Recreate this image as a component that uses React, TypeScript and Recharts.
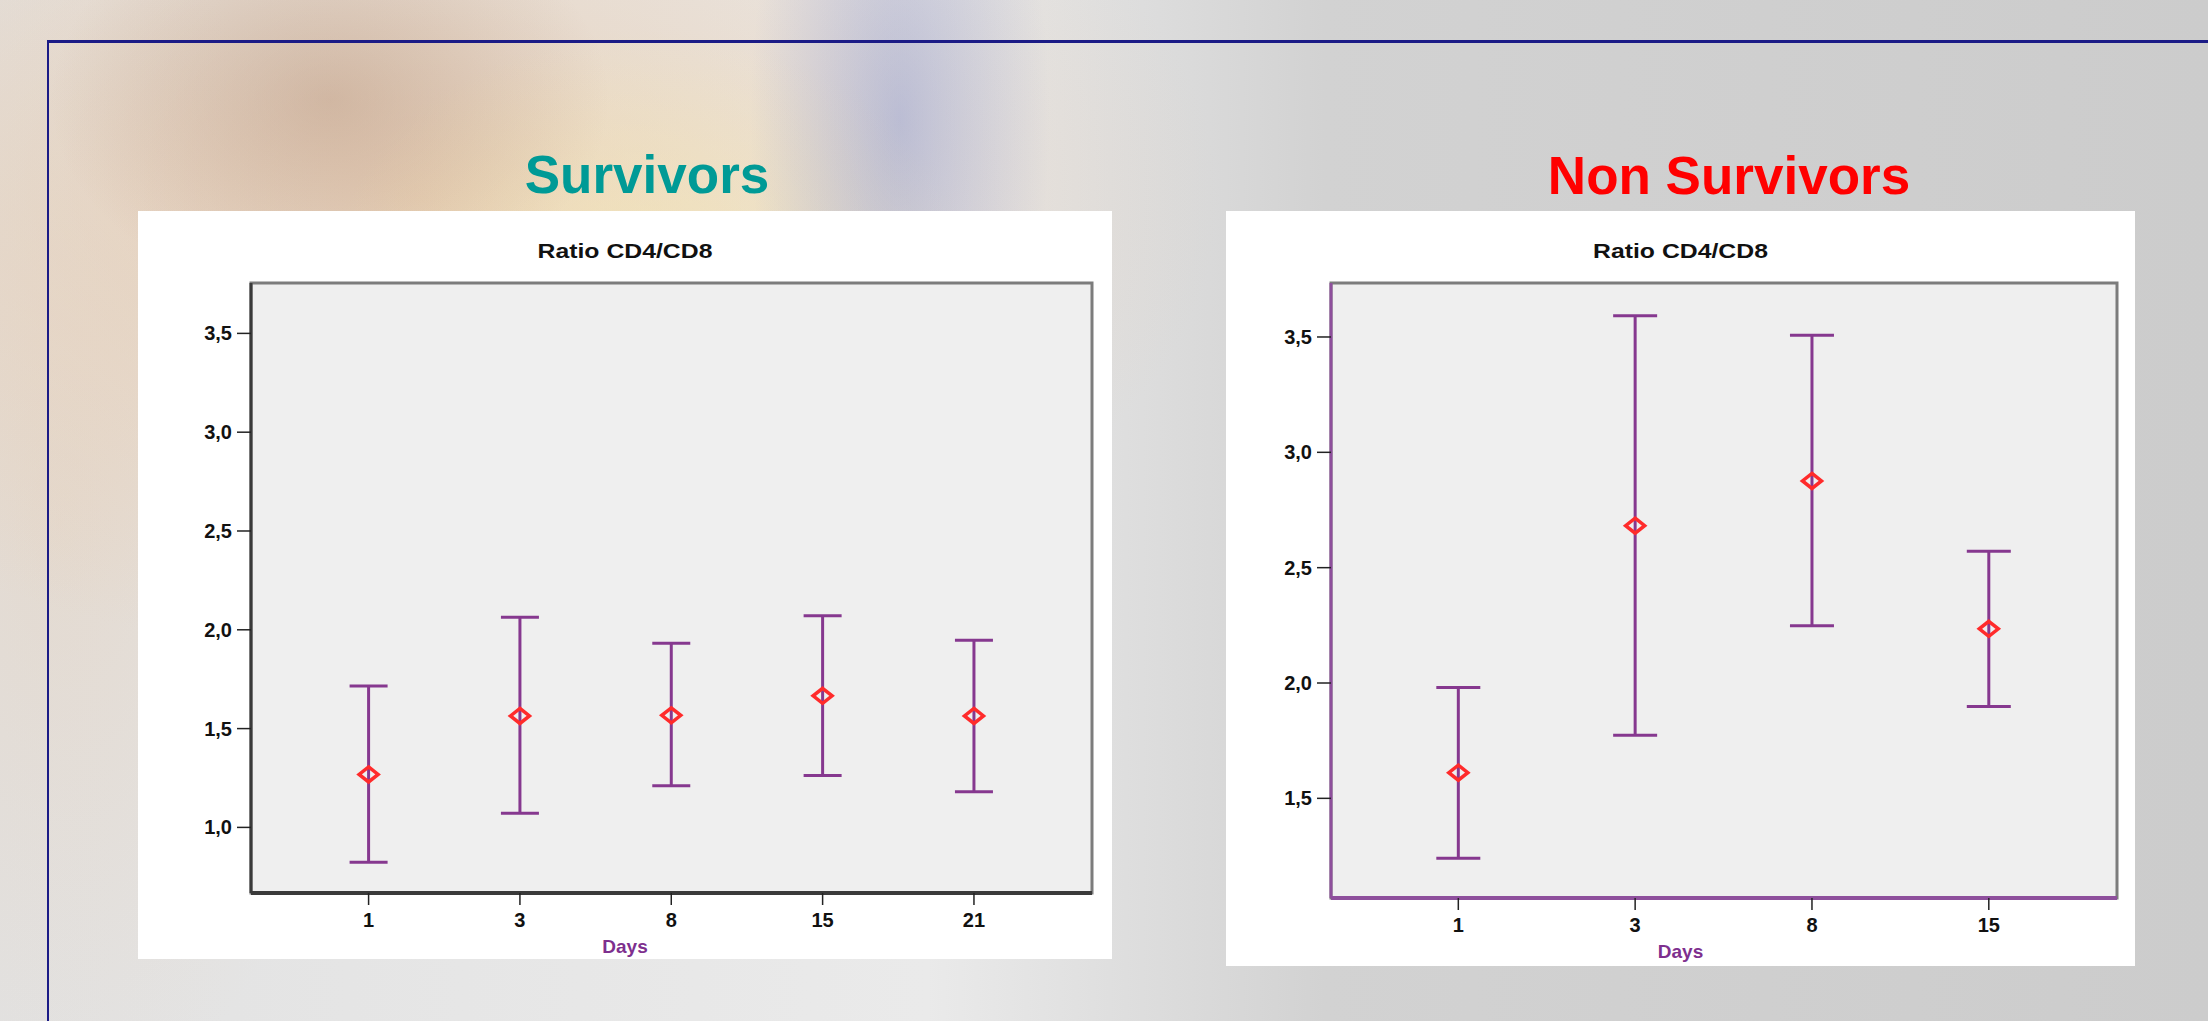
import React from 'react';
import { ComposedChart, Scatter, ErrorBar, XAxis, YAxis, ReferenceArea } from 'recharts';

// Survivors: mean ratio CD4/CD8 with its interval, per day
const survivorDays = ['1', '3', '8', '15', '21'];
const survivorMean = [1.268, 1.564, 1.567, 1.666, 1.564];
const survivorLow = [0.824, 1.072, 1.211, 1.263, 1.181];
const survivorHigh = [1.716, 2.064, 1.932, 2.071, 1.947];
const survivorTicks = [1.0, 1.5, 2.0, 2.5, 3.0, 3.5];

// Non survivors
const nonSurvivorDays = ['1', '3', '8', '15'];
const nonSurvivorMean = [1.611, 2.682, 2.876, 2.235];
const nonSurvivorLow = [1.24, 1.773, 2.248, 1.898];
const nonSurvivorHigh = [1.981, 3.592, 3.508, 2.571];
const nonSurvivorTicks = [1.5, 2.0, 2.5, 3.0, 3.5];

const FONT = '"Liberation Sans", Arial, sans-serif';

const buildRows = (days: string[], mean: number[], low: number[], high: number[]) =>
  days.map((day, i) => ({
    idx: i,
    day,
    mean: mean[i],
    err: [mean[i] - low[i], high[i] - mean[i]],
  }));

const Diamond = (props: any) => {
  const { cx, cy } = props;
  if (cx == null || cy == null) return null;
  return (
    <path
      d={`M${cx},${cy - 7.5} L${cx + 9.5},${cy} L${cx},${cy + 7.5} L${cx - 9.5},${cy} Z`}
      fill="none"
      stroke="#ff2b2b"
      strokeWidth={3.5}
    />
  );
};

type PanelProps = {
  left: number;
  top: number;
  width: number;
  height: number;
  yAxisWidth: number;
  xAxisHeight: number;
  marginRight: number;
  daysTop: number;
  days: string[];
  rows: any[];
  xDomain: [number, number];
  yDomain: [number, number];
  yTicks: number[];
  axisColor: string;
  cap: number;
};

const ChartPanel: React.FC<PanelProps> = (p) => {
  const tickStyle = { fill: '#111', fontSize: 20, fontWeight: 'bold', fontFamily: FONT };
  return (
    <div
      style={{
        position: 'absolute',
        left: p.left,
        top: p.top,
        width: p.width,
        height: p.height,
        background: '#fff',
      }}
    >
      <div
        style={{
          position: 'absolute',
          left: 0,
          top: 29,
          width: p.width,
          textAlign: 'center',
          fontFamily: FONT,
          fontWeight: 'bold',
          fontSize: 21,
          lineHeight: '22px',
          color: '#111',
          transform: 'scaleX(1.18)',
        }}
      >
        Ratio CD4/CD8
      </div>
      <ComposedChart
        width={p.width}
        height={p.height}
        margin={{ top: 72, right: p.marginRight, bottom: 0, left: 0 }}
        style={{ position: 'absolute', left: 0, top: 0 }}
      >
        <ReferenceArea
          x1={p.xDomain[0]}
          x2={p.xDomain[1]}
          y1={p.yDomain[0]}
          y2={p.yDomain[1]}
          fill="#efefef"
          fillOpacity={1}
          stroke="#7c7c7c"
          strokeWidth={3}
        />
        <Scatter data={p.rows} dataKey="mean" shape={<Diamond />} isAnimationActive={false}>
          <ErrorBar
            dataKey="err"
            direction="y"
            width={p.cap}
            stroke="#86388f"
            strokeWidth={3}
            isAnimationActive={false}
          />
        </Scatter>
        <XAxis
          dataKey="idx"
          type="number"
          domain={p.xDomain}
          allowDataOverflow
          ticks={p.days.map((_, i) => i)}
          tickFormatter={(v: number) => p.days[v]}
          height={p.xAxisHeight}
          tickSize={12}
          tickMargin={8}
          tick={tickStyle}
          tickLine={{ stroke: '#222', strokeWidth: 1.5 }}
          axisLine={{ stroke: p.axisColor, strokeWidth: 4 }}
        />
        <YAxis
          type="number"
          domain={p.yDomain}
          allowDataOverflow
          ticks={p.yTicks}
          tickFormatter={(v: number) => v.toFixed(1).replace('.', ',')}
          width={p.yAxisWidth}
          tickSize={14}
          tickMargin={5}
          tick={tickStyle}
          tickLine={{ stroke: '#222', strokeWidth: 1.5 }}
          axisLine={{ stroke: p.axisColor, strokeWidth: 3 }}
        />
      </ComposedChart>
      <div
        style={{
          position: 'absolute',
          left: 0,
          top: p.daysTop,
          width: p.width,
          textAlign: 'center',
          fontFamily: FONT,
          fontWeight: 'bold',
          fontSize: 19,
          lineHeight: '20px',
          color: '#7e2f8e',
        }}
      >
        Days
      </div>
    </div>
  );
};

const App: React.FC = () => {
  const survivorRows = buildRows(survivorDays, survivorMean, survivorLow, survivorHigh);
  const nonSurvivorRows = buildRows(nonSurvivorDays, nonSurvivorMean, nonSurvivorLow, nonSurvivorHigh);

  return (
    <div
      style={{
        position: 'absolute',
        left: 0,
        top: 0,
        width: 2208,
        height: 1021,
        overflow: 'hidden',
        background: [
          'radial-gradient(ellipse 150px 380px at 900px 120px, rgba(100,120,200,0.35), rgba(100,120,200,0) 100%)',
          'radial-gradient(ellipse 280px 200px at 330px 100px, rgba(150,100,70,0.28), rgba(150,100,70,0) 100%)',
          'radial-gradient(ellipse 320px 240px at 650px 270px, rgba(250,235,170,0.5), rgba(250,235,170,0) 100%)',
          'radial-gradient(ellipse 800px 460px at 420px 200px, rgba(235,195,155,0.55), rgba(235,195,155,0) 100%)',
          'radial-gradient(ellipse 300px 600px at 60px 520px, rgba(230,205,180,0.4), rgba(230,205,180,0) 100%)',
          'linear-gradient(to right, #e2e2e2 0%, #eaeaea 42%, #d2d2d2 60%, #cccccc 100%)',
        ].join(', '),
      }}
    >
      {/* slide frame */}
      <div
        style={{
          position: 'absolute',
          left: 47,
          top: 40,
          width: 2208,
          height: 1021,
          borderTop: '3px solid #1b1b86',
          borderLeft: '2px solid #1b1b86',
        }}
      />
      <div
        style={{
          position: 'absolute',
          left: 447,
          top: 148,
          width: 400,
          textAlign: 'center',
          fontFamily: FONT,
          fontWeight: 'bold',
          fontSize: 53,
          lineHeight: '53px',
          color: '#009a96',
        }}
      >
        Survivors
      </div>
      <div
        style={{
          position: 'absolute',
          left: 1479,
          top: 149,
          width: 500,
          textAlign: 'center',
          fontFamily: FONT,
          fontWeight: 'bold',
          fontSize: 53,
          lineHeight: '53px',
          color: '#ff0000',
        }}
      >
        Non Survivors
      </div>

      <ChartPanel
        left={138}
        top={211}
        width={974}
        height={748}
        yAxisWidth={113}
        xAxisHeight={66}
        marginRight={20}
        daysTop={726}
        days={survivorDays}
        rows={survivorRows}
        xDomain={[-0.777, 4.78]}
        yDomain={[0.668, 3.755]}
        yTicks={survivorTicks}
        axisColor="#3a3a3a"
        cap={19}
      />
      <ChartPanel
        left={1226}
        top={211}
        width={909}
        height={755}
        yAxisWidth={105}
        xAxisHeight={68}
        marginRight={18}
        daysTop={731}
        days={nonSurvivorDays}
        rows={nonSurvivorRows}
        xDomain={[-0.72, 3.725]}
        yDomain={[1.068, 3.734]}
        yTicks={nonSurvivorTicks}
        axisColor="#8e4f9c"
        cap={22}
      />
    </div>
  );
};

export default App;
